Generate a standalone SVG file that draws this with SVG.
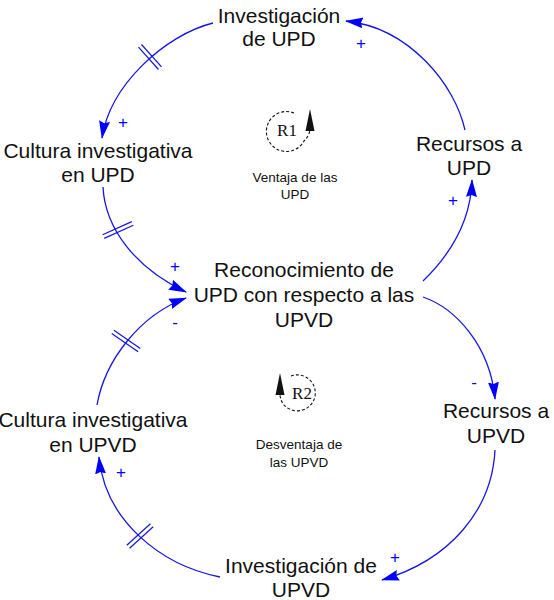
<svg xmlns="http://www.w3.org/2000/svg" width="554" height="600" viewBox="0 0 554 600">
<defs>
<style>
.lbl{font-family:"Liberation Sans",Arial,sans-serif;font-size:21px;fill:#111;text-anchor:middle}
.small{font-family:"Liberation Sans",Arial,sans-serif;font-size:13.5px;fill:#111;text-anchor:middle}
.sign{font-family:"Liberation Sans",Arial,sans-serif;font-size:17px;fill:#0000ff;text-anchor:middle}
.link{fill:none;stroke:#1515e6;stroke-width:1.3;marker-end:url(#ah)}
.hatch{stroke:#1515e6;stroke-width:1.2}
.loop{fill:none;stroke:#111;stroke-width:1.1;stroke-dasharray:3 2}
.rtxt{font-family:"Liberation Serif","Times New Roman",serif;font-size:17px;fill:#111;text-anchor:middle}
</style>
<marker id="ah" markerWidth="19" markerHeight="12" refX="17" refY="5.5" orient="auto" markerUnits="userSpaceOnUse">
<path d="M0,0 L18,5.5 L0,11 L2,5.5 z" fill="#0000ff"/>
</marker>
</defs>
<rect width="554" height="600" fill="#fff"/>

<g id="connectors">
<path class="link" d="M465,130 C455,85 410,28 346,21"/>
<path class="link" d="M213,23 C165,35 110,85 102,138"/>
<path class="link" d="M103,187 C105,228 135,268 186,292"/>
<path class="link" d="M423,281 C455,250 471,215 472,180"/>
<path class="link" d="M423,297 C455,308 490,345 495,399"/>
<path class="link" d="M495,450 C492,510 450,560 382,580"/>
<path class="link" d="M220,577 C160,565 105,520 99,457"/>
<path class="link" d="M97,405 C105,360 140,315 186,298"/>
<g id="delays">
<line class="hatch" x1="138.5" y1="47.1" x2="158.5" y2="69.5"/>
<line class="hatch" x1="141.5" y1="44.5" x2="161.5" y2="66.9"/>
<line class="hatch" x1="102.6" y1="234.8" x2="131.8" y2="221.6"/>
<line class="hatch" x1="104.2" y1="238.4" x2="133.4" y2="225.2"/>
<line class="hatch" x1="111.7" y1="333.5" x2="138.1" y2="351.7"/>
<line class="hatch" x1="113.9" y1="330.3" x2="140.3" y2="348.5"/>
<line class="hatch" x1="126.8" y1="545.3" x2="150.4" y2="523.7"/>
<line class="hatch" x1="129.6" y1="548.3" x2="153.2" y2="526.7"/>
</g>
<g id="polarities">
<text class="sign" x="361" y="49">+</text>
<text class="sign" x="123" y="128">+</text>
<text class="sign" x="175" y="272">+</text>
<text class="sign" x="453" y="206">+</text>
<text class="sign" x="474" y="388">-</text>
<text class="sign" x="395" y="563">+</text>
<text class="sign" x="121" y="478">+</text>
<text class="sign" x="175" y="328">-</text>
</g>
</g>

<g id="investigacion-upd">
<text class="lbl" x="279" y="23">Investigación</text>
<text class="lbl" x="279" y="46">de UPD</text>
</g>
<g id="cultura-upd">
<text class="lbl" x="98" y="158">Cultura investigativa</text>
<text class="lbl" x="98" y="182">en UPD</text>
</g>
<g id="recursos-upd">
<text class="lbl" x="469" y="151">Recursos a</text>
<text class="lbl" x="469" y="175">UPD</text>
</g>
<g id="reconocimiento">
<text class="lbl" x="304" y="277">Reconocimiento de</text>
<text class="lbl" x="304" y="302">UPD con respecto a las</text>
<text class="lbl" x="304" y="327">UPVD</text>
</g>
<g id="recursos-upvd">
<text class="lbl" x="496" y="418">Recursos a</text>
<text class="lbl" x="496" y="443">UPVD</text>
</g>
<g id="cultura-upvd">
<text class="lbl" x="93" y="427">Cultura investigativa</text>
<text class="lbl" x="93" y="452">en UPVD</text>
</g>
<g id="investigacion-upvd">
<text class="lbl" x="301" y="573">Investigación de</text>
<text class="lbl" x="301" y="597">UPVD</text>
</g>

<g id="loop-r1">
<path class="loop" d="M294,113 A20,20 0 1 0 304,141 Q309,136 310,130"/>
<path d="M310,109 L305.5,131 L314.5,131 z" fill="#111"/>
<text class="rtxt" x="287" y="136">R1</text>
<text class="small" x="295" y="182">Ventaja de las</text>
<text class="small" x="295" y="199">UPD</text>
</g>
<g id="loop-r2">
<path class="loop" d="M291,376 A18,18 0 1 1 284,405 Q280,400 280,394"/>
<path d="M280,373 L275.5,395 L284.5,395 z" fill="#111"/>
<text class="rtxt" x="302" y="399">R2</text>
<text class="small" x="299" y="449">Desventaja de</text>
<text class="small" x="299" y="467">las UPVD</text>
</g>
</svg>
